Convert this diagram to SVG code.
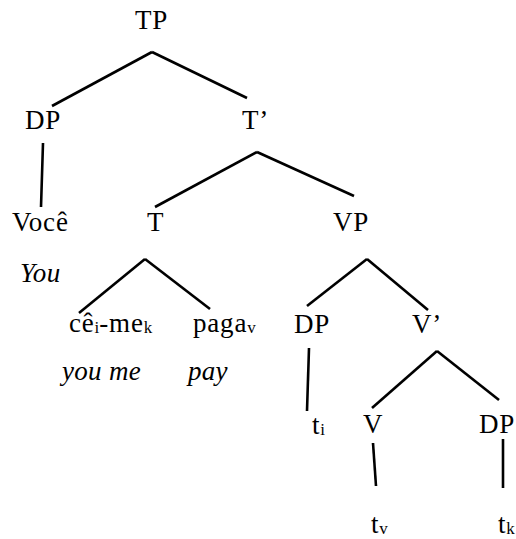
<svg xmlns="http://www.w3.org/2000/svg" width="516" height="539" viewBox="0 0 516 539">
<style>
text{font-family:"Liberation Serif","Times New Roman",serif;font-size:27px;fill:#000;letter-spacing:0.8px}
.it{font-style:italic;letter-spacing:0.3px}
.sub{font-size:17px;letter-spacing:0}
.edge{stroke:#000;stroke-width:2.6;fill:none;stroke-linecap:butt}
</style>
<rect width="516" height="539" fill="#fff"/>
<g id="connectors">
<line class="edge" x1="152" y1="52" x2="52" y2="106"/>
<line class="edge" x1="152" y1="52" x2="247" y2="98"/>
<line class="edge" x1="43" y1="143" x2="41" y2="207"/>
<line class="edge" x1="257" y1="152" x2="155" y2="207"/>
<line class="edge" x1="257" y1="152" x2="354" y2="196"/>
<line class="edge" x1="145" y1="259" x2="79" y2="313"/>
<line class="edge" x1="145" y1="259" x2="210" y2="309"/>
<line class="edge" x1="367" y1="259" x2="307" y2="306"/>
<line class="edge" x1="367" y1="259" x2="428" y2="310"/>
<line class="edge" x1="309" y1="348" x2="307" y2="411"/>
<line class="edge" x1="437" y1="351" x2="372" y2="408"/>
<line class="edge" x1="437" y1="351" x2="499" y2="400"/>
<line class="edge" x1="373" y1="443" x2="376" y2="486"/>
<line class="edge" x1="503" y1="439" x2="503" y2="488"/>
</g>
<g id="TP"><text x="135" y="29">TP</text></g>
<g id="DP1"><text x="25" y="129">DP</text></g>
<g id="Tbar"><text x="242" y="129">T’</text></g>
<g id="Voce"><text x="12" y="231">Você</text></g>
<g id="You"><text class="it" x="20" y="282">You</text></g>
<g id="T"><text x="147" y="231">T</text></g>
<g id="VP"><text x="333" y="231">VP</text></g>
<g id="ceime"><text x="69" y="332">cê<tspan class="sub" dy="1">i</tspan><tspan dy="-1">-me</tspan><tspan class="sub" dy="1">k</tspan></text></g>
<g id="paga"><text x="193" y="332">paga<tspan class="sub" dy="1">v</tspan></text></g>
<g id="youme"><text class="it" x="62" y="380">you me</text></g>
<g id="pay"><text class="it" x="188" y="380">pay</text></g>
<g id="DP2"><text x="294" y="333">DP</text></g>
<g id="Vbar"><text x="412" y="333">V’</text></g>
<g id="ti"><text x="312" y="434">t<tspan class="sub" dy="1">i</tspan></text></g>
<g id="V"><text x="363" y="433">V</text></g>
<g id="DP3"><text x="479" y="433">DP</text></g>
<g id="tv"><text x="371" y="533">t<tspan class="sub" dy="1">v</tspan></text></g>
<g id="tk"><text x="498" y="533">t<tspan class="sub" dy="1">k</tspan></text></g>
</svg>
